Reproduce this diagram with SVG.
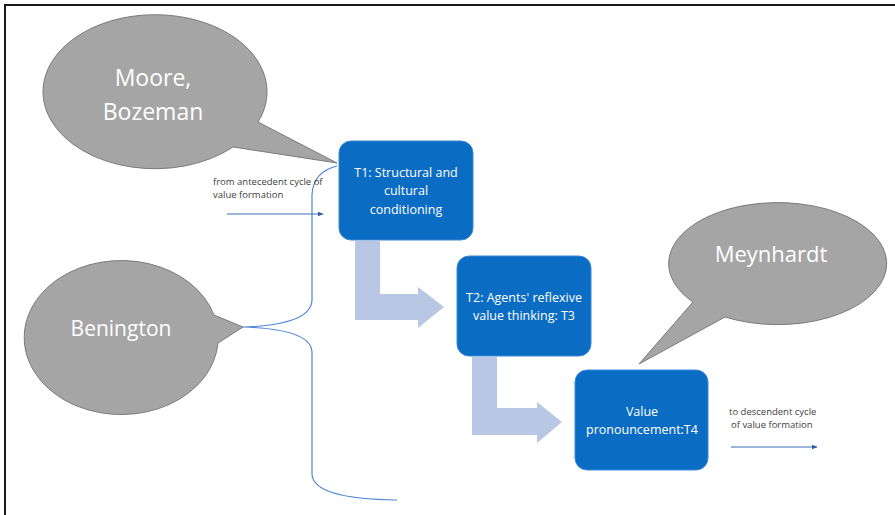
<svg xmlns="http://www.w3.org/2000/svg" width="895" height="515" viewBox="0 0 895 515">
<style>
.bub{fill:#a5a5a5;stroke:#7a7a7a;stroke-width:1}
.bubt{fill:#ffffff;font-family:"Open Sans","Noto Sans",sans-serif;text-anchor:middle}
.box{fill:#0b6cc4;stroke:#3b8ad6;stroke-width:1}
.boxt{fill:#ffffff;font-family:"Open Sans","Noto Sans",sans-serif;font-size:12.5px;text-anchor:middle}
.small{fill:#404040;font-family:"Open Sans","Noto Sans",sans-serif;font-size:9.5px}
.curve{fill:none;stroke:#4f86d8;stroke-width:1.2}
.flow{fill:#b8c7e4}
.thin{fill:none;stroke:#3b6db5;stroke-width:1}
</style>
<defs>
<marker id="ah" viewBox="0 0 10 10" refX="9" refY="5" markerWidth="6" markerHeight="6" orient="auto" markerUnits="userSpaceOnUse">
<path d="M0,1 L10,5 L0,9 z" fill="#2f5fa8"/>
</marker>
</defs>
<rect width="895" height="515" fill="#ffffff"/>
<path d="M5,515 L5,5 L895,5" fill="none" stroke="#1a1a1a" stroke-width="2"/>

<g id="connectors">
<path class="curve" d="M337,166 Q313,172 312,195 L312,300 Q311,325 243,327 Q311,329 312,352 L312,474 Q313,499 397,500"/>
<path class="flow" d="M355,241 L380,241 L380,294 L418,294 L418,287 L444,307 L418,328 L418,320 L355,320 Z"/>
<path class="flow" d="M472,357 L497,357 L497,408 L537,408 L537,402 L562,422 L537,443 L537,435 L472,435 Z"/>
<line class="thin" x1="227" y1="214" x2="323" y2="214" marker-end="url(#ah)"/>
<line class="thin" x1="731" y1="447" x2="817" y2="447" marker-end="url(#ah)"/>
<text class="small" x="213" y="185">from antecedent cycle of</text>
<text class="small" x="213" y="198">value formation</text>
<text class="small" x="729" y="415">to descendent cycle</text>
<text class="small" x="731" y="428">of value formation</text>
</g>

<g id="moore">
<path class="bub" d="M258,122 A112,77 0 1 0 233,147 L337,163 Z"/>
<text class="bubt" font-size="23" x="153" y="86">Moore,</text>
<text class="bubt" font-size="23" x="153" y="120">Bozeman</text>
</g>

<g id="benington">
<path class="bub" d="M214,315 A97,77 0 1 0 218,343 L243,327 Z"/>
<text class="bubt" font-size="21" x="121" y="336">Benington</text>
</g>

<g id="meynhardt">
<path class="bub" d="M725,317 A109,61 0 1 0 693,302 L639,364 Z"/>
<text class="bubt" font-size="22" x="771" y="262">Meynhardt</text>
</g>

<g id="t1">
<rect class="box" x="339" y="141" width="134" height="99" rx="12"/>
<text class="boxt" x="406" y="177">T1: Structural and</text>
<text class="boxt" x="406" y="195">cultural</text>
<text class="boxt" x="406" y="214">conditioning</text>
</g>

<g id="t2">
<rect class="box" x="457" y="256" width="134" height="100" rx="12"/>
<text class="boxt" x="524" y="302">T2: Agents' reflexive</text>
<text class="boxt" x="524" y="320">value thinking: T3</text>
</g>

<g id="t4">
<rect class="box" x="575" y="370" width="133" height="100" rx="12"/>
<text class="boxt" x="642" y="416">Value</text>
<text class="boxt" x="642" y="434">pronouncement:T4</text>
</g>
</svg>
